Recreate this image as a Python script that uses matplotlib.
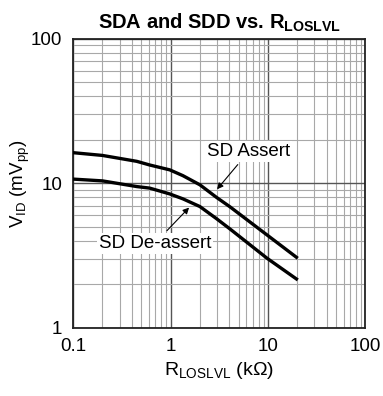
import numpy as np
import matplotlib.pyplot as plt
from matplotlib.ticker import LogLocator, FixedLocator, NullFormatter

plt.rcParams['font.family'] = ['Liberation Sans', 'DejaVu Sans']
plt.rcParams['mathtext.fontset'] = 'custom'
plt.rcParams['mathtext.rm'] = 'Liberation Sans'
plt.rcParams['mathtext.bf'] = 'Liberation Sans:bold'

# threshold curves
r_kohm = [0.1, 0.2, 0.45, 0.61, 0.98, 1.34, 2.0, 2.96, 4.05, 9.8, 19.6]
sd_assert = [16.3, 15.6, 14.2, 13.4, 12.4, 11.3, 9.77, 8.0, 6.9, 4.39, 3.08]
sd_deassert = [10.7, 10.4, 9.5, 9.27, 8.45, 7.81, 6.91, 5.7, 4.85, 3.03, 2.18]

x_ticks = [0.1, 1, 10, 100]
x_tick_labels = ['0.1', '1', '10', '100']
y_ticks = [1, 10, 100]
y_tick_labels = ['1', '10', '100']

fig = plt.figure(figsize=(3.83, 3.96), dpi=100)
ax = fig.add_axes([0.191, 0.172, 0.763, 0.730])

ax.set_xscale('log')
ax.set_yscale('log')
ax.set_xlim(0.1, 100)
ax.set_ylim(1, 100)

ax.xaxis.set_major_locator(FixedLocator(x_ticks))
ax.set_xticklabels(x_tick_labels)
ax.yaxis.set_major_locator(FixedLocator(y_ticks))
ax.set_yticklabels(y_tick_labels)
ax.xaxis.set_minor_locator(LogLocator(base=10, subs=np.arange(2, 10)))
ax.yaxis.set_minor_locator(LogLocator(base=10, subs=np.arange(2, 10)))
ax.xaxis.set_minor_formatter(NullFormatter())
ax.yaxis.set_minor_formatter(NullFormatter())
ax.tick_params(which='both', length=0, labelsize=13.5)
ax.tick_params(axis='y', pad=8)
ax.tick_params(axis='x', pad=7)

ax.grid(which='major', color='#555555', linewidth=1.0)
ax.grid(which='minor', color='#a8a8a8', linewidth=0.8)
for s in ax.spines.values():
    s.set_linewidth(1.3)
    s.set_color('#222222')

ax.plot(r_kohm, sd_assert, color='black', linewidth=2.4,
        solid_joinstyle='round', zorder=3)
ax.plot(r_kohm, sd_deassert, color='black', linewidth=2.4,
        solid_joinstyle='round', zorder=3)

box = dict(facecolor='white', edgecolor='none', pad=1.5)
ax.annotate('SD Assert', xy=(3.0, 9.1), xytext=(6.3, 16.5),
            fontsize=13.5, ha='center', va='center', bbox=box, zorder=4,
            arrowprops=dict(arrowstyle='-|>', color='black', lw=0.8,
                            mutation_scale=9, shrinkA=2, shrinkB=0))
ax.annotate('SD De-assert', xy=(1.55, 6.8), xytext=(0.69, 3.85),
            fontsize=13.5, ha='center', va='center', bbox=box, zorder=4,
            arrowprops=dict(arrowstyle='-|>', color='black', lw=0.8,
                            mutation_scale=9, shrinkA=2, shrinkB=0))

ax.set_title(r'SDA and SDD vs. R$_{\mathbf{LOSLVL}}$',
             fontsize=14.5, fontweight='bold', pad=7)
ax.set_xlabel(r'R$_{\mathregular{LOSLVL}}$ (k$\Omega$)', fontsize=14, labelpad=4)
ax.set_ylabel(r'V$_{\mathregular{ID}}$ (mV$_{\mathregular{pp}}$)', fontsize=13.5)
ax.yaxis.set_label_coords(-0.142, 0.5)

fig.savefig('out.png', dpi=100)
